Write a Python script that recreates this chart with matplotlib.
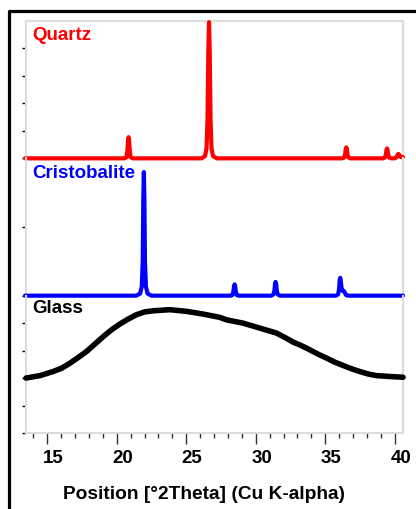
import matplotlib.pyplot as plt
from matplotlib.lines import Line2D
from matplotlib.ticker import MultipleLocator
from matplotlib.transforms import ScaledTranslation

plt.rcParams['font.family'] = ['Liberation Sans', 'DejaVu Sans']
plt.rcParams['font.weight'] = 'bold'

# quartz pattern
quartz_x = [13.4,
            20.55, 20.7, 20.77, 20.81, 20.85, 20.89, 20.93, 21.0, 21.15,
            26.1, 26.35, 26.46, 26.53, 26.59, 26.64, 26.69, 26.75, 26.82, 26.93, 27.2,
            36.22, 36.37, 36.44, 36.48, 36.52, 36.56, 36.6, 36.67, 36.82,
            39.15, 39.3, 39.37, 39.41, 39.45, 39.49, 39.53, 39.6, 39.75,
            40.0, 40.12, 40.2, 40.27, 40.34, 40.42, 40.6]
quartz_y = [0,
            0, 0.04, 0.3, 0.65, 0.77, 0.65, 0.3, 0.04, 0,
            0, 0.08, 0.35, 1.4, 3.9, 4.96, 3.9, 1.4, 0.35, 0.08, 0,
            0, 0.03, 0.16, 0.34, 0.40, 0.34, 0.16, 0.03, 0,
            0, 0.03, 0.15, 0.31, 0.36, 0.31, 0.15, 0.03, 0,
            0, 0.03, 0.12, 0.16, 0.12, 0.05, 0.04]

# cristobalite pattern
cristo_x = [13.4,
            21.4, 21.68, 21.8, 21.87, 21.91, 21.95, 21.99, 22.03, 22.1, 22.22, 22.5,
            28.18, 28.33, 28.4, 28.44, 28.48, 28.52, 28.56, 28.63, 28.78,
            31.13, 31.28, 31.35, 31.39, 31.43, 31.47, 31.51, 31.58, 31.73,
            35.78, 35.93, 36.0, 36.04, 36.08, 36.12, 36.17, 36.24, 36.32, 36.38, 36.44, 36.52, 36.7,
            40.6]
cristo_y = [0,
            0, 0.03, 0.13, 0.5, 1.4, 1.80, 1.4, 0.5, 0.13, 0.03, 0,
            0, 0.01, 0.07, 0.14, 0.165, 0.14, 0.07, 0.01, 0,
            0, 0.02, 0.08, 0.17, 0.20, 0.17, 0.08, 0.02, 0,
            0, 0.02, 0.1, 0.22, 0.26, 0.22, 0.12, 0.07, 0.07, 0.06, 0.03, 0.005, 0,
            0]

# amorphous glass hump
glass_x = [13.47, 14.48, 15.43, 16.04, 16.63, 17.23, 17.83, 18.43, 19.03, 19.63,
           20.23, 20.83, 21.43, 22.02, 22.62, 23.82, 25.02, 26.22, 27.42, 27.90,
           29.09, 30.29, 31.49, 32.09, 32.69, 33.29, 33.89, 34.49, 35.09, 35.69,
           36.28, 36.89, 37.48, 38.08, 38.68, 39.88, 40.60]
glass_y = [2.00, 2.09, 2.24, 2.36, 2.54, 2.75, 2.97, 3.24, 3.51, 3.76,
           3.97, 4.15, 4.31, 4.41, 4.45, 4.49, 4.43, 4.33, 4.21, 4.12,
           4.00, 3.82, 3.64, 3.48, 3.31, 3.18, 3.03, 2.87, 2.73, 2.58,
           2.46, 2.34, 2.24, 2.15, 2.09, 2.05, 2.03]

xticks = [15, 20, 25, 30, 35, 40]

fig, axs = plt.subplots(3, 1, sharex=True, figsize=(4.16, 5.09), dpi=100,
                        gridspec_kw={'hspace': 0})
fig.subplots_adjust(left=0.0625, right=0.9688, top=0.9587, bottom=0.1493)

frame = '#dcdcdc'
panels = [(quartz_x, quartz_y, 'red', 'Quartz', 5, [0, 1, 2, 3, 4], 3.0, 0.865),
          (cristo_x, cristo_y, 'blue', 'Cristobalite', 2, [0, 1], 3.0, 0.860),
          (glass_x, glass_y, 'black', 'Glass', 5, [0, 1, 2, 3, 4], 4.0, 0.874)]

for i, (ax, (x, y, c, name, top, yt, lw, ty)) in enumerate(zip(axs, panels)):
    ax.set_facecolor('none')
    ax.plot(x, y, color=c, lw=lw, clip_on=False, solid_joinstyle='round',
            solid_capstyle='round', zorder=3)
    ax.set_ylim(0, top)
    ax.set_yticks(yt)
    ax.set_yticklabels([])
    ax.tick_params(axis='y', length=3, width=1, color='black', direction='out')
    for s in ax.spines.values():
        s.set_color(frame)
        s.set_linewidth(1.5)
    if i != 0:
        ax.spines['top'].set_visible(False)
    if i != 2:
        ax.spines['bottom'].set_visible(False)
        ax.tick_params(axis='x', which='both', bottom=False)
    ax.text(0.016, ty, name, transform=ax.transAxes, color=c, fontsize=13.5,
            fontweight='bold', ha='left', va='baseline', zorder=4)

ax = axs[2]
ax.set_xlim(13.47, 40.60)
ax.set_xticks(xticks)
ax.xaxis.set_minor_locator(MultipleLocator(1))
ax.tick_params(axis='x', which='major', length=8, width=1, color='#333333',
               labelsize=13.5, pad=4)
ax.tick_params(axis='x', which='minor', length=3.5, width=1, color='#333333')
# labels sit a little right of their ticks in the original
shift = ScaledTranslation(0.06, 0, fig.dpi_scale_trans)
for lab in ax.get_xticklabels():
    lab.set_fontweight('bold')
    lab.set_transform(lab.get_transform() + shift)

fig.text(0.490, 0.019, 'Position [°2Theta] (Cu K-alpha)', ha='center',
         va='baseline', fontsize=13.8, fontweight='bold')

# thick black border of the original picture
fig.add_artist(Line2D([8.7 / 416, 8.7 / 416, 1.01], [-0.01, 1 - 11.3 / 509, 1 - 11.3 / 509],
                      color='black', lw=2.3, transform=fig.transFigure))

fig.savefig('out.png', dpi=100)
